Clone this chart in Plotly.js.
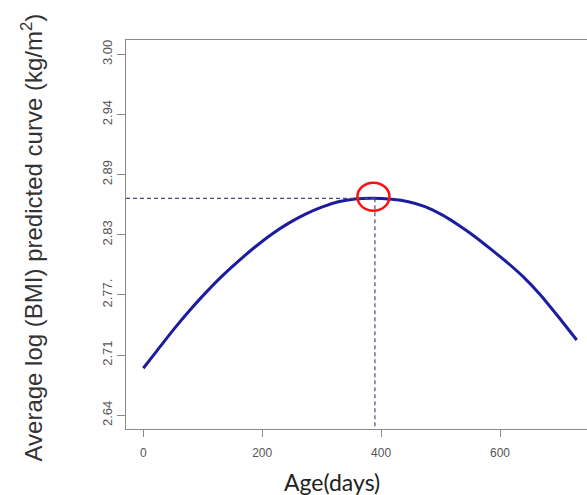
<!DOCTYPE html>
<html>
<head>
<meta charset="utf-8">
<script src="https://cdn.plot.ly/plotly-3.0.1.min.js"></script>
<style>
  html, body { margin: 0; padding: 0; background: #ffffff; }
  #chart { width: 587px; height: 495px; }
</style>
</head>
<body>
<div id="chart"></div>
<script>
// Average predicted log(BMI) curve over age in days
const ageDays = [0, 22.5, 50.5, 78.6, 106.7, 134.6, 168.2, 187.9, 216.0, 243.9, 272.0, 300.1, 328.0, 356.1, 384.2,
                 417.8, 445.8, 473.8, 501.9, 529.9, 558.0, 586.0, 611.3, 639.2, 667.3, 695.4, 729.0];
const logBmi  = [2.6869, 2.7040, 2.7252, 2.7450, 2.7633, 2.7800, 2.7980, 2.8078, 2.8206, 2.8314, 2.8404, 2.8476, 2.8529, 2.8557, 2.8564,
                 2.8554, 2.8530, 2.8482, 2.8401, 2.8298, 2.8181, 2.8050, 2.7928, 2.7780, 2.7605, 2.7403, 2.7151];

// Peak of the curve
const peakAge = 389.6;
const peakValue = 2.8564;

// Axis ticks
const xTickVals = [0, 200, 400, 600];
const xTickText = ['0', '200', '400', '600'];
const yTickVals = [2.64, 2.70, 2.76, 2.82, 2.88, 2.94, 3.00];
const yTickText = ['2.64', '2.71', '2.77.', '2.83', '2.89', '2.94', '3.00'];

const xRange = [-29.1, 746.3];
const yRange = [2.6263, 3.0143];

const curve = {
  x: ageDays,
  y: logBmi,
  type: 'scatter',
  mode: 'lines',
  line: { color: '#1c1c9c', width: 3, shape: 'spline', smoothing: 0.6 },
  hoverinfo: 'x+y',
  showlegend: false
};

const guideStyle = { color: '#4b4b7e', width: 1.2, dash: '4px,3px' };

const layout = {
  width: 587,
  height: 495,
  margin: { l: 126, r: 0, t: 40, b: 66 },
  paper_bgcolor: '#ffffff',
  plot_bgcolor: '#ffffff',
  showlegend: false,
  font: { family: 'Liberation Sans, Arial, sans-serif', color: '#555555' },
  xaxis: {
    range: xRange,
    tickvals: xTickVals,
    ticktext: xTickText,
    ticks: 'outside',
    ticklen: 7,
    tickcolor: '#8a8a8a',
    tickfont: { size: 12, color: '#555555' },
    ticklabelstandoff: 6,
    showline: true,
    linecolor: '#8a8a8a',
    linewidth: 1,
    mirror: true,
    showgrid: false,
    zeroline: false
  },
  yaxis: {
    range: yRange,
    tickvals: yTickVals,
    ticktext: yTickText,
    tickangle: -90,
    ticks: 'outside',
    ticklen: 8,
    tickcolor: '#8a8a8a',
    tickfont: { size: 13, color: '#555555' },
    showline: true,
    linecolor: '#8a8a8a',
    linewidth: 1,
    mirror: false,
    showgrid: false,
    zeroline: false
  },
  shapes: [
    // horizontal guide to the peak value
    { type: 'line', xref: 'x', yref: 'y', x0: xRange[0], x1: peakAge, y0: peakValue, y1: peakValue, line: guideStyle },
    // vertical guide down from the peak
    { type: 'line', xref: 'x', yref: 'y', x0: peakAge, x1: peakAge, y0: peakValue, y1: yRange[0], line: guideStyle },
    // red ring around the peak
    {
      type: 'circle', xref: 'x', yref: 'y',
      xsizemode: 'pixel', ysizemode: 'pixel',
      xanchor: peakAge - 2.5, yanchor: peakValue + 0.0016,
      x0: -16, x1: 16, y0: -14, y1: 14,
      line: { color: '#ff1010', width: 2.5 }
    }
  ],
  annotations: [
    {
      text: 'Average log (BMI) predicted curve (kg/m<sup>2</sup>)',
      xref: 'paper', yref: 'paper', x: 0, y: 0.5,
      xanchor: 'center', yanchor: 'middle',
      xshift: -95, yshift: -3,
      textangle: -90, showarrow: false,
      font: { family: 'Liberation Sans, Arial, sans-serif', size: 24, color: '#333333' }
    },
    {
      text: 'Age(days)',
      xref: 'paper', yref: 'paper', x: 0.447, y: 0,
      xanchor: 'center', yanchor: 'middle',
      yshift: -53, showarrow: false,
      font: { family: 'Lato, Open Sans, sans-serif', size: 23, color: '#222222' }
    }
  ]
};

Plotly.newPlot('chart', [curve], layout, { displayModeBar: false, staticPlot: true });
</script>
</body>
</html>
